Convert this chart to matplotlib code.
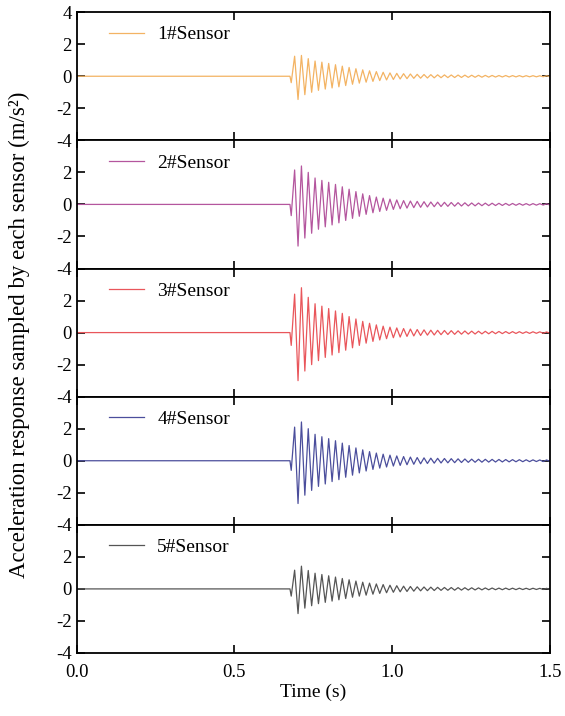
import numpy as np
import matplotlib
matplotlib.use("Agg")
import matplotlib.pyplot as plt

plt.rcParams['font.family'] = ['Liberation Serif', 'DejaVu Serif']
plt.rcParams['axes.unicode_minus'] = False

# sensor labels and line colours
sensors = ['1#Sensor', '2#Sensor', '3#Sensor', '4#Sensor', '5#Sensor']
colors = ['#F3B363', '#B4569E', '#E9565B', '#4B4E9C', '#555555']

# time grid of the extrema (s)
t_onset = 0.676
t_first = 0.680
half_period = 0.0108

# first small dip after onset (m/s^2)
dips = [-0.4, -0.7, -0.8, -0.6, -0.45]

# positive peaks / negative troughs of each cycle
peaks1 = [1.25, 1.3, 1.1, 0.95, 0.88, 0.8, 0.72, 0.63, 0.55, 0.47, 0.4, 0.34, 0.29,
          0.25, 0.21, 0.18, 0.16, 0.14, 0.12, 0.11, 0.1, 0.09, 0.085, 0.08, 0.075,
          0.07, 0.065, 0.06, 0.055, 0.05, 0.045, 0.045, 0.04, 0.04, 0.035, 0.035, 0.03, 0.03]
troughs1 = [-1.45, -1.15, -1.0, -0.88, -0.8, -0.73, -0.66, -0.58, -0.5, -0.43, -0.37,
            -0.32, -0.27, -0.23, -0.2, -0.17, -0.15, -0.13, -0.12, -0.11, -0.1, -0.09,
            -0.085, -0.08, -0.075, -0.07, -0.065, -0.06, -0.055, -0.05, -0.045, -0.045,
            -0.04, -0.04, -0.035, -0.035, -0.03, -0.03]

peaks2 = [2.15, 2.4, 2.0, 1.65, 1.5, 1.38, 1.25, 1.1, 0.95, 0.8, 0.66, 0.55, 0.46,
          0.39, 0.33, 0.28, 0.24, 0.21, 0.19, 0.17, 0.15, 0.14, 0.13, 0.12, 0.11,
          0.1, 0.09, 0.085, 0.08, 0.075, 0.07, 0.065, 0.06, 0.055, 0.05, 0.05, 0.045, 0.04]
troughs2 = [-2.6, -2.1, -1.8, -1.55, -1.4, -1.28, -1.15, -1.0, -0.87, -0.74, -0.62,
            -0.52, -0.44, -0.37, -0.31, -0.27, -0.23, -0.2, -0.18, -0.16, -0.14, -0.13,
            -0.12, -0.11, -0.1, -0.095, -0.09, -0.08, -0.075, -0.07, -0.065, -0.06,
            -0.055, -0.05, -0.05, -0.045, -0.04, -0.04]

peaks3 = [2.4, 2.8, 2.2, 1.8, 1.65, 1.5, 1.35, 1.2, 1.0, 0.85, 0.7, 0.58, 0.48, 0.4,
          0.34, 0.29, 0.25, 0.22, 0.19, 0.17, 0.15, 0.14, 0.13, 0.12, 0.11, 0.1, 0.09,
          0.085, 0.08, 0.075, 0.07, 0.065, 0.06, 0.055, 0.05, 0.05, 0.045, 0.04]
troughs3 = [-3.0, -2.4, -2.0, -1.75, -1.55, -1.4, -1.25, -1.1, -0.95, -0.8, -0.66,
            -0.55, -0.46, -0.38, -0.32, -0.28, -0.24, -0.21, -0.18, -0.16, -0.15, -0.13,
            -0.12, -0.11, -0.1, -0.095, -0.09, -0.08, -0.075, -0.07, -0.065, -0.06,
            -0.055, -0.05, -0.05, -0.045, -0.04, -0.04]

peaks4 = [2.1, 2.42, 2.0, 1.65, 1.5, 1.38, 1.25, 1.1, 0.95, 0.8, 0.68, 0.57, 0.48,
          0.41, 0.35, 0.3, 0.26, 0.23, 0.2, 0.18, 0.16, 0.15, 0.14, 0.13, 0.12, 0.11,
          0.1, 0.095, 0.09, 0.085, 0.08, 0.075, 0.07, 0.065, 0.06, 0.055, 0.05, 0.05]
troughs4 = [-2.67, -2.15, -1.85, -1.6, -1.45, -1.3, -1.18, -1.03, -0.9, -0.76, -0.64,
            -0.54, -0.46, -0.39, -0.33, -0.29, -0.25, -0.22, -0.19, -0.17, -0.15, -0.14,
            -0.13, -0.12, -0.11, -0.1, -0.095, -0.09, -0.085, -0.08, -0.075, -0.07,
            -0.065, -0.06, -0.055, -0.05, -0.05, -0.045]

peaks5 = [1.17, 1.42, 1.15, 0.98, 0.9, 0.82, 0.74, 0.65, 0.57, 0.49, 0.42, 0.36, 0.31,
          0.27, 0.23, 0.2, 0.17, 0.15, 0.13, 0.12, 0.11, 0.1, 0.09, 0.085, 0.08, 0.075,
          0.07, 0.065, 0.06, 0.055, 0.05, 0.05, 0.045, 0.045, 0.04, 0.04, 0.035, 0.035]
troughs5 = [-1.54, -1.2, -1.05, -0.92, -0.84, -0.76, -0.68, -0.6, -0.52, -0.45, -0.39,
            -0.33, -0.28, -0.24, -0.21, -0.18, -0.16, -0.14, -0.12, -0.11, -0.1, -0.09,
            -0.085, -0.08, -0.075, -0.07, -0.065, -0.06, -0.055, -0.05, -0.05, -0.045,
            -0.045, -0.04, -0.04, -0.035, -0.035, -0.03]

peaks = [peaks1, peaks2, peaks3, peaks4, peaks5]
troughs = [troughs1, troughs2, troughs3, troughs4, troughs5]


def build_series(dip, pk, tr):
    vals = [dip]
    for p, q in zip(pk, tr):
        vals += [p, q]
    t_ext = t_first + half_period * np.arange(len(vals))
    t = np.concatenate([[0.0, t_onset], t_ext, [1.5]])
    y = np.concatenate([[0.0, 0.0], vals, [0.0]])
    return t, y


fig, axes = plt.subplots(5, 1, figsize=(5.65, 7.16), dpi=100, sharex=True)
fig.subplots_adjust(left=0.136, right=0.973, top=0.983, bottom=0.088, hspace=0)

for i, ax in enumerate(axes):
    t, y = build_series(dips[i], peaks[i], troughs[i])
    ax.plot(t, y, color=colors[i], lw=0.9, label=sensors[i])
    ax.set_xlim(0, 1.5)
    ax.set_ylim(-4, 4)
    ax.set_yticks([-4, -2, 0, 2, 4])
    if i > 0:
        ax.set_yticklabels(['-4', '-2', '0', '2', ''])
    ax.set_xticks([0.0, 0.5, 1.0, 1.5])
    ax.tick_params(direction='in', length=6, width=1.2, top=True, right=True,
                   labelsize=13.5)
    ax.tick_params(axis='x', pad=8)
    for s in ax.spines.values():
        s.set_linewidth(1.3)
    ax.legend(loc='upper left', frameon=False, fontsize=14,
              bbox_to_anchor=(0.03, 1.03), handlelength=1.8, handletextpad=0.7)

axes[-1].set_xticklabels(['0.0', '0.5', '1.0', '1.5'])
axes[-1].set_xlabel('Time (s)', fontsize=14, labelpad=2)
fig.text(0.035, 0.532, 'Acceleration response sampled by each sensor (m/s²)',
         rotation=90, ha='center', va='center', fontsize=16.5)

fig.savefig('out.png', dpi=100)
